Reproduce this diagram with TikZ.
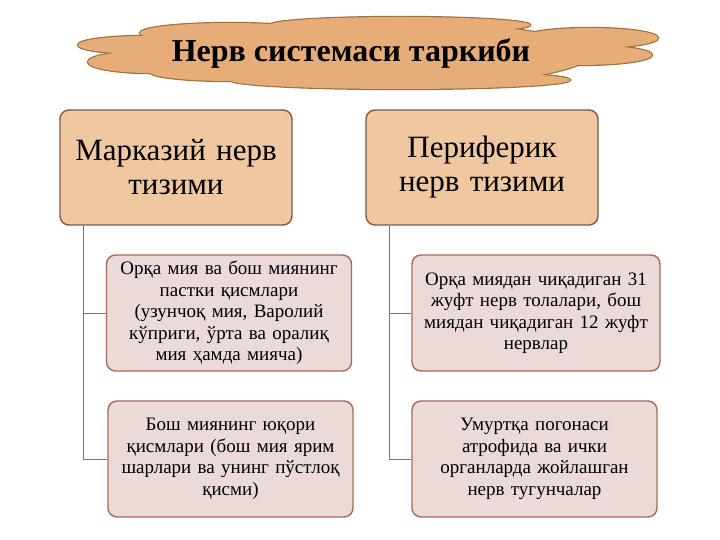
\documentclass[tikz,border=0pt]{standalone}
\usepackage{fontspec}
\setmainfont{Liberation Serif}
\definecolor{cloudfill}{HTML}{E6AD78}
\definecolor{cloudline}{HTML}{A0703F}
\definecolor{topfill}{HTML}{EFC8A1}
\definecolor{topline}{HTML}{7F5846}
\definecolor{subfill}{HTML}{EBDAD8}
\definecolor{subline}{HTML}{A86A56}
\definecolor{connline}{HTML}{7E736E}

\begin{document}
\begin{tikzpicture}[x=1pt, y=-1pt,
    title/.style={font=\fontsize{32}{36}\selectfont\bfseries},
    topbox/.style={draw=topline, line width=1.4pt, fill=topfill, rounded corners=9pt,
      minimum width=232pt, minimum height=115pt, text width=224pt, align=center,
      font=\fontsize{31}{34}\selectfont},
    subbox/.style={draw=subline, line width=1.4pt, fill=subfill, rounded corners=9pt,
      minimum width=245pt, minimum height=116pt, inner xsep=1.5pt, text width=240pt, align=center,
      font=\fontsize{19}{21.5}\selectfont},
    conn/.style={draw=connline, line width=0.9pt}]
  \useasboundingbox (0,0) rectangle (720,540);

  \foreach \cx/\cy/\rx/\ry in {370/54/220/33, 145/45/67/9, 150/62/62/11, 230/33/90/10,
      400/25/130/8, 590/38/68/10, 580/55/72/10, 400/80/170/9, 230/72/80/9}
    \draw[cloudline, line width=2.4pt] (\cx,\cy) ellipse [x radius=\rx, y radius=\ry];
  \foreach \cx/\cy/\rx/\ry in {370/54/220/33, 145/45/67/9, 150/62/62/11, 230/33/90/10,
      400/25/130/8, 590/38/68/10, 580/55/72/10, 400/80/170/9, 230/72/80/9}
    \fill[cloudfill] (\cx,\cy) ellipse [x radius=\rx, y radius=\ry];
  \node[title] (ttl) at (351,53) {Нерв системаси таркиби};

  \node[topbox] (mnt) at (176,167.5) {Марказий нерв\\тизими};
  \node[topbox] (pnt) at (482,167.5) {Периферик\\нерв тизими};

  \node[subbox] (orqa) at (229,313) {Орқа мия ва бош миянинг\\пастки қисмлари\\(узунчоқ мия, Варолий\\кўприги, ўрта ва оралиқ\\мия ҳамда мияча)};
  \node[subbox] (yuqori) at (230.5,459) {Бош миянинг юқори\\қисмлари (бош мия ярим\\шарлари ва унинг пўстлоқ\\қисми)};
  \node[subbox, minimum width=248pt] (nervlar) at (536,313) {Орқа миядан чиқадиган 31\\жуфт нерв толалари, бош\\миядан чиқадиган 12 жуфт\\нервлар};
  \node[subbox] (tugun) at (534.5,459) {Умуртқа погонаси\\атрофида ва ички\\органларда жойлашган\\нерв тугунчалар};

  \draw[conn] ([xshift=24pt]mnt.south west) |- (orqa.west);
  \draw[conn] ([xshift=24pt]mnt.south west) |- (yuqori.west);
  \draw[conn] ([xshift=24pt]pnt.south west) |- (nervlar.west);
  \draw[conn] ([xshift=24pt]pnt.south west) |- (tugun.west);
\end{tikzpicture}
\end{document}
